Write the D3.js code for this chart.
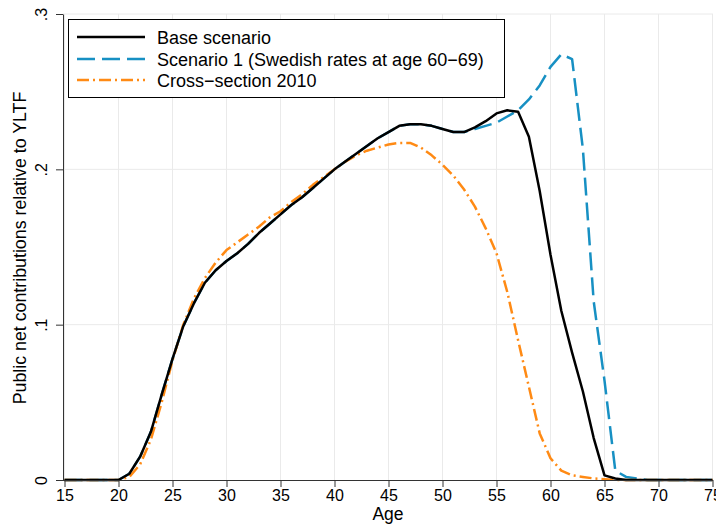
<!DOCTYPE html>
<html>
<head>
<meta charset="utf-8">
<script src="https://cdn.jsdelivr.net/npm/d3@7"></script>
<style>
  body { margin: 0; background: #fff; }
  svg { display: block; font-family: "Liberation Sans", Arial, sans-serif; }
  .grid line { stroke: #eaeaea; stroke-width: 1; }
  .axis path, .axis line { stroke: #333; }
  .axis text { fill: #000; font-size: 16px; }
</style>
</head>
<body>
<svg id="chart" width="716" height="524"></svg>
<script>
// ages 15..75
const ages = [15,16,17,18,19,20,21,22,23,24,25,26,27,28,29,30,31,32,33,34,35,36,37,38,39,40,
  41,42,43,44,45,46,47,48,49,50,51,52,53,54,55,56,57,58,59,60,61,62,63,64,65,66,67,68,69,70,
  71,72,73,74,75];

const baseScenario = [0,0,0,0,0,0,.004,.015,.031,.055,.078,.099,.114,.127,.135,.141,.146,.152,.159,.165,
  .171,.177,.182,.188,.194,.200,.205,.210,.215,.220,.224,.228,.229,.229,.228,.226,.224,.224,.227,.231,
  .236,.238,.237,.221,.186,.145,.109,.082,.057,.027,.003,.001,0,0,0,0,0,0,0,0,0];

const scenario1 = [0,0,0,0,0,0,.004,.015,.031,.055,.078,.099,.114,.127,.135,.141,.146,.152,.159,.165,
  .171,.177,.182,.188,.194,.200,.205,.210,.215,.220,.224,.228,.229,.229,.228,.226,.224,.224,.226,.228,
  .230,.234,.238,.245,.254,.266,.274,.271,.213,.115,.064,.006,.002,.001,0,0,0,0,0,0,0];

const crossSection = [0,0,0,0,0,0,.002,.010,.026,.050,.077,.100,.117,.130,.140,.148,.153,.158,.163,.169,
  .173,.179,.184,.190,.195,.200,.205,.209,.212,.214,.216,.217,.217,.214,.209,.203,.196,.187,.176,.162,
  .146,.121,.090,.060,.030,.014,.006,.003,.002,.001,.0005,0,0,0,0,0,0,0,0,0,0];

const xTicks = [15,20,25,30,35,40,45,50,55,60,65,70,75];
const yTicks = [0, .1, .2, .3];
const yTickLabels = ["0", ".1", ".2", ".3"];

const seriesNames = ["Base scenario", "Scenario 1 (Swedish rates at age 60\u221269)", "Cross\u2212section 2010"];

const svg = d3.select('#chart');
svg.append('rect').attr('width', 716).attr('height', 524).attr('fill', '#fff');

const x = d3.scaleLinear().domain([15, 75]).range([64.5, 712.5]);
const y = d3.scaleLinear().domain([0, .3]).range([480, 14]);

const styles = {
  base: { color: '#000', dash: null, width: 2.5 },
  s1: { color: '#1790c3', dash: '18,7', width: 2.5 },
  cs: { color: '#ff8a14', dash: '12,4,2,4', width: 2.5 }
};

// grid
const grid = svg.append('g').attr('class', 'grid');
grid.selectAll('.vg').data(xTicks).enter().append('line')
  .attr('x1', d => x(d)).attr('x2', d => x(d))
  .attr('y1', y(.3)).attr('y2', y(0));
grid.selectAll('.hg').data(yTicks.slice(1)).enter().append('line')
  .attr('x1', 63).attr('x2', 713)
  .attr('y1', d => y(d)).attr('y2', d => y(d));

// lines, base drawn on top
const line = d3.line().x((d, i) => x(ages[i])).y(d => y(d));
const draw = (data, st) => {
  svg.append('path').datum(data)
    .attr('d', line)
    .attr('fill', 'none')
    .attr('stroke', st.color)
    .attr('stroke-width', st.width)
    .attr('stroke-linejoin', 'round')
    .attr('stroke-dasharray', st.dash);
};
draw(scenario1, styles.s1);
draw(crossSection, styles.cs);
draw(baseScenario, styles.base);

// X-Achse
const xAxis = svg.append('g').attr('class', 'axis')
  .attr('transform', 'translate(0,480)')
  .call(d3.axisBottom(x).tickValues(xTicks).tickSize(7).tickSizeOuter(0));
xAxis.select('.domain').attr('d', 'M63,0.5H713');
xAxis.selectAll('.tick text').attr('dy', '0.95em').attr('y', 6);

// Y-Achse
const yAxis = svg.append('g').attr('class', 'axis')
  .attr('transform', 'translate(63,0)')
  .call(d3.axisLeft(y).tickValues(yTicks).tickFormat((d, i) => yTickLabels[i]).tickSize(7).tickSizeOuter(0));
yAxis.selectAll('.tick text')
  .attr('x', 0).attr('dy', 0)
  .attr('text-anchor', 'middle')
  .attr('transform', 'translate(-16,0) rotate(-90)');

// titles
svg.append('text').attr('x', 388).attr('y', 520)
  .attr('text-anchor', 'middle').attr('font-size', 17.5).text('Age');
svg.append('text')
  .attr('transform', 'translate(26,248) rotate(-90)')
  .attr('text-anchor', 'middle').attr('font-size', 17.8)
  .text('Public net contributions relative to YLTF');

// legend
const legend = svg.append('g');
legend.append('rect').attr('x', 68.5).attr('y', 19.5).attr('width', 436).attr('height', 78)
  .attr('fill', '#fff').attr('stroke', '#000').attr('stroke-width', 1);
const legRows = [styles.base, styles.s1, styles.cs];
const legY = [37, 59, 80];
legRows.forEach((st, i) => {
  legend.append('line').attr('x1', 77).attr('x2', 145).attr('y1', legY[i]).attr('y2', legY[i])
    .attr('stroke', st.color).attr('stroke-width', st.width).attr('stroke-dasharray', st.dash);
  legend.append('text').attr('x', 157).attr('y', legY[i] + 7)
    .attr('font-size', 18).text(seriesNames[i]);
});
</script>
</body>
</html>
